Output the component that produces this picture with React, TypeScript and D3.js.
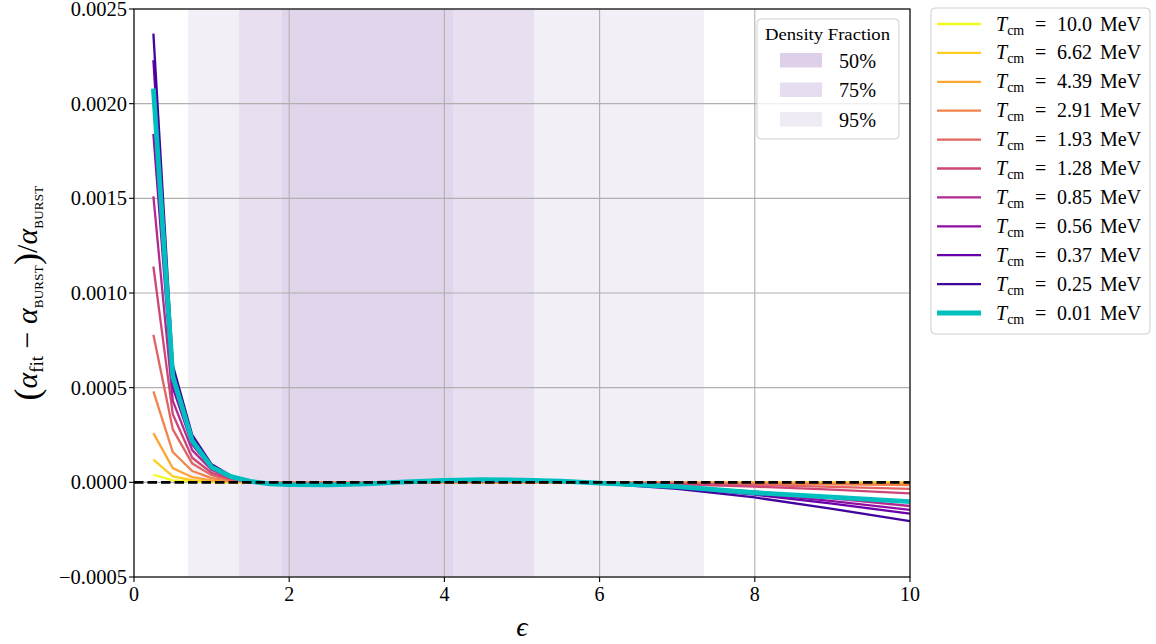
import React from "react";
import * as d3 from "d3";

// ---------- data ----------
const EPS = [0.25, 0.5, 0.75, 1, 1.25, 1.5, 1.75, 2, 2.5, 3, 3.5, 4, 4.5, 5, 5.5, 6, 7, 8, 9, 10];
const UNIT = 1e-5;
const T_LABELS = ["10.0", "6.62", "4.39", "2.91", "1.93", "1.28", "0.85", "0.56", "0.37", "0.25"];
const TEAL_LABEL = "0.01";
const V_T10_0 = [4, 1.0, 0.35, 0.12, 0.05, 0, 0, 0, 0, 0, 0, 0, 0, 0, 0, 0, 0, 0, 0, 0];
const V_T6_62 = [12, 3.2, 1.1, 0.4, 0.15, 0.05, 0, 0, 0, 0, 0, 0, 0, 0, 0, 0, 0, -0.1, -0.1, -0.2];
const V_T4_39 = [26, 7.5, 2.7, 1.0, 0.35, 0.1, 0, 0, 0, 0, 0, 0, 0, 0, 0, 0, -0.1, -0.2, -0.4, -0.6];
const V_T2_91 = [48, 16, 6, 2.2, 0.8, 0.2, -0.1, -0.1, -0.1, -0.1, 0, 0.1, 0.1, 0.1, 0, 0, -0.3, -0.6, -1.0, -1.5];
const V_T1_93 = [78, 28, 10, 3.8, 1.3, 0.3, -0.2, -0.3, -0.3, -0.2, 0, 0.2, 0.3, 0.3, 0.1, -0.1, -0.6, -1.4, -2.4, -3.5];
const V_T1_28 = [114, 36, 13, 5.0, 1.8, 0.4, -0.3, -0.5, -0.5, -0.3, 0.1, 0.3, 0.5, 0.4, 0.2, -0.2, -1.0, -2.3, -3.9, -5.8];
const V_T0_85 = [151, 43, 17, 6.5, 2.4, 0.5, -0.5, -1.0, -1.0, -0.7, 0.1, 0.7, 1.0, 0.9, 0.4, -0.4, -2.1, -4.9, -8.5, -12.5];
const V_T0_56 = [184, 50, 20, 7.5, 2.8, 0.6, -0.6, -1.1, -1.2, -0.8, 0.1, 0.9, 1.2, 1.1, 0.5, -0.4, -2.5, -5.7, -9.9, -14.5];
const V_T0_37 = [223, 58, 23, 8.5, 3.2, 0.7, -0.7, -1.3, -1.4, -0.9, 0.2, 1.0, 1.4, 1.2, 0.6, -0.5, -2.8, -6.5, -11.3, -16.5];
const V_T0_25 = [237, 62, 25, 9.5, 3.5, 0.8, -0.8, -1.6, -1.7, -1.1, 0.2, 1.2, 1.7, 1.5, 0.7, -0.6, -3.5, -8.0, -14.0, -20.5];
const V_T0_01 = [208, 56, 22, 8, 3, 0.5, -0.8, -1.2, -1.3, -0.8, 0.2, 1.0, 1.4, 1.2, 0.6, -0.4, -2.3, -5.5, -7.8, -10.2];
const SERIES = [V_T10_0, V_T6_62, V_T4_39, V_T2_91, V_T1_93, V_T1_28, V_T0_85, V_T0_56, V_T0_37, V_T0_25];
const PLASMA_POS = [1.0, 0.9, 0.8, 0.7, 0.6, 0.5, 0.4, 0.3, 0.2, 0.1];

const BAND_LABELS = ["50%", "75%", "95%"];
const BAND_LO = [1.907, 1.353, 0.696];
const BAND_HI = [4.11, 5.155, 7.345];

const X_TICKS = [0, 2, 4, 6, 8, 10];
const Y_TICKS = [-0.0005, 0, 0.0005, 0.001, 0.0015, 0.002, 0.0025];

// ---------- layout ----------
const W = 1156, H = 644;
const L = 134, R = 910, T = 9, B = 577;
const SERIF = "'Liberation Serif', 'DejaVu Serif', serif";
const BAND_FILL = ["#e1d5eb", "#e8e0f0", "#f2eff7"];
const PATCH_FILL = ["#ded0e9", "#e6ddf0", "#efebf5"];
const TEAL = "#00bfbf";

export default function App() {
  const x = d3.scaleLinear().domain([0, 10]).range([L, R]);
  const y = d3.scaleLinear().domain([-0.0005, 0.0025]).range([B, T]);
  const line = d3
    .line<number>()
    .x((_, i) => x(EPS[i]))
    .y((v) => y(v * UNIT));
  const fmtY = (v: number) => {
    const s = Math.abs(v).toFixed(4);
    return v < 0 ? "\u2212" + s : s;
  };

  const legY = 8, legRow = 28.9;
  const cap = { fontSize: 13, letterSpacing: 0.3 } as const;

  return (
    <svg
      width={W}
      height={H}
      style={{ position: "absolute", left: 0, top: 0, background: "#fff" }}
      fontFamily={SERIF}
    >
      <defs>
        <clipPath id="plotclip">
          <rect x={L} y={T} width={R - L} height={B - T} />
        </clipPath>
      </defs>
      {/* bands: 95 then 75 then 50 */}
      {[2, 1, 0].map((k) => (
        <rect
          key={"band" + k}
          x={x(BAND_LO[k])}
          y={T}
          width={x(BAND_HI[k]) - x(BAND_LO[k])}
          height={B - T}
          fill={BAND_FILL[k]}
        />
      ))}
      {/* grid */}
      {X_TICKS.map((t) => (
        <line key={"gx" + t} x1={x(t)} x2={x(t)} y1={T} y2={B} stroke="#b0b0b0" strokeWidth={1.1} />
      ))}
      {Y_TICKS.map((t) => (
        <line key={"gy" + t} x1={L} x2={R} y1={y(t)} y2={y(t)} stroke="#b0b0b0" strokeWidth={1.1} />
      ))}
      {/* series */}
      <g clipPath="url(#plotclip)" fill="none" strokeLinejoin="round">
        {SERIES.map((s, i) => (
          <path
            key={"s" + i}
            d={line(s) || ""}
            stroke={d3.interpolatePlasma(PLASMA_POS[i])}
            strokeWidth={2.3}
          />
        ))}
        <path d={line(V_T0_01) || ""} stroke={TEAL} strokeWidth={4.8} />
        <line
          x1={L}
          x2={R}
          y1={y(0)}
          y2={y(0)}
          stroke="#000"
          strokeWidth={2.8}
          strokeDasharray="9.5,4"
        />
      </g>
      {/* frame */}
      <rect x={L} y={T} width={R - L} height={B - T} fill="none" stroke="#000" strokeWidth={1.1} />
      {/* x ticks */}
      {X_TICKS.map((t) => (
        <g key={"xt" + t}>
          <line x1={x(t)} x2={x(t)} y1={B} y2={B + 5} stroke="#000" strokeWidth={1.1} />
          <text x={x(t)} y={B + 24} textAnchor="middle" fontSize={20}>
            {t}
          </text>
        </g>
      ))}
      {/* y ticks */}
      {Y_TICKS.map((t) => (
        <g key={"yt" + t}>
          <line x1={L - 5} x2={L} y1={y(t)} y2={y(t)} stroke="#000" strokeWidth={1.1} />
          <text x={L - 7} y={y(t) + 7} textAnchor="end" fontSize={20.5}>
            {fmtY(t)}
          </text>
        </g>
      ))}
      {/* axis labels */}
      <text x={(L + R) / 2} y={636} textAnchor="middle" fontSize={28} fontStyle="italic">
        {"\u03F5"}
      </text>
      <text transform={`translate(37, ${(T + B) / 2}) rotate(-90)`} textAnchor="middle" fontSize={30}>
        <tspan fontSize={36} dy={2}>(</tspan>
        <tspan fontStyle="italic" dy={-2}>α</tspan>
        <tspan fontSize={19} dy={6}>fit</tspan>
        <tspan dy={-6}>{" \u2212 "}</tspan>
        <tspan fontStyle="italic">α</tspan>
        <tspan style={cap} dy={6}>BURST</tspan>
        <tspan fontSize={36} dy={-4}>)</tspan>
        <tspan dy={-2}>/</tspan>
        <tspan fontStyle="italic">α</tspan>
        <tspan style={cap} dy={6}>BURST</tspan>
      </text>
      {/* density legend */}
      <rect x={757} y={19} width={142} height={120} rx={4} fill="#fff" fillOpacity={0.8} stroke="#cfcfcf" strokeWidth={1} />
      <text x={765} y={40} fontSize={17} textLength={125} lengthAdjust="spacingAndGlyphs">
        Density Fraction
      </text>
      {BAND_LABELS.map((lab, k) => (
        <g key={"bl" + k}>
          <rect x={780} y={53 + k * 29.5} width={42} height={14.5} fill={PATCH_FILL[k]} />
          <text x={839} y={67.5 + k * 29.5} fontSize={20} textLength={37} lengthAdjust="spacingAndGlyphs">
            {lab}
          </text>
        </g>
      ))}
      {/* series legend */}
      <rect x={931} y={legY} width={219} height={326} rx={4} fill="#fff" fillOpacity={0.8} stroke="#cfcfcf" strokeWidth={1} />
      {T_LABELS.concat([TEAL_LABEL]).map((lab, i) => {
        const cy = 24 + i * legRow;
        const isTeal = i === T_LABELS.length;
        return (
          <g key={"lg" + i}>
            <line
              x1={937}
              x2={981}
              y1={cy}
              y2={cy}
              stroke={isTeal ? TEAL : d3.interpolatePlasma(PLASMA_POS[i])}
              strokeWidth={isTeal ? 4.8 : 2.3}
            />
            <text y={cy + 6.5} fontSize={20}>
              <tspan x={996} fontStyle="italic">T</tspan>
              <tspan fontSize={14} dy={4}>cm</tspan>
              <tspan x={1035} dy={-4}>=</tspan>
              <tspan x={1057}>{lab}</tspan>
              <tspan x={1100}>MeV</tspan>
            </text>
          </g>
        );
      })}
    </svg>
  );
}
